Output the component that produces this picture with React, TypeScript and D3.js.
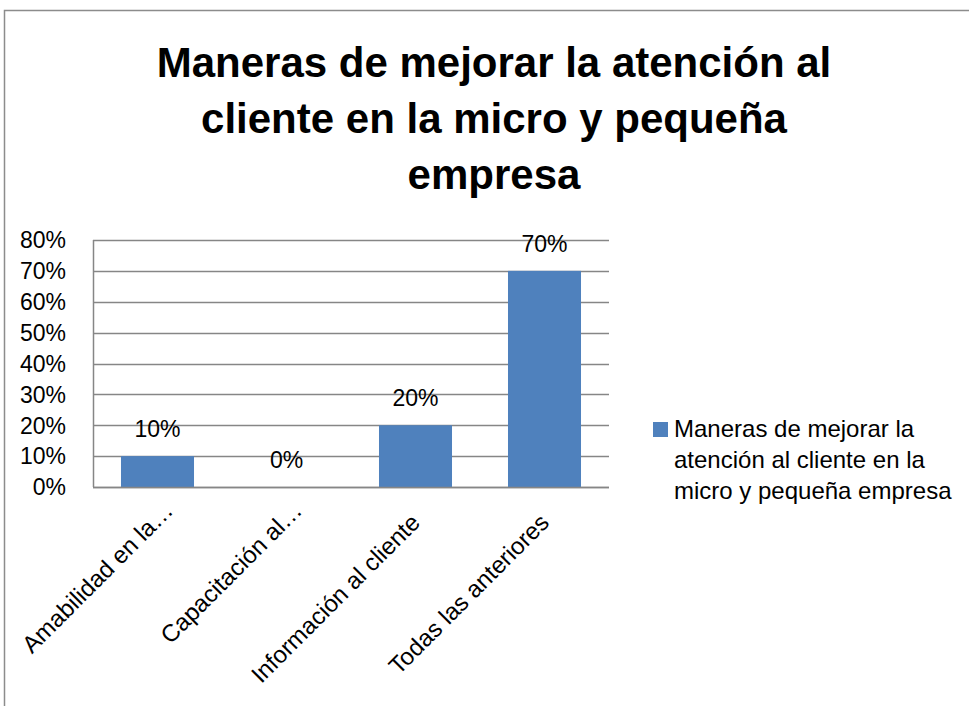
import React from "react";
import * as d3 from "d3";

const title = ["Maneras de mejorar la atención al", "cliente en la micro y pequeña", "empresa"];
const categories = ["Amabilidad en la…", "Capacitación al…", "Información al cliente", "Todas las anteriores"];
const values = [0.1, 0, 0.2, 0.7];
const yTicks = [0, 0.1, 0.2, 0.3, 0.4, 0.5, 0.6, 0.7, 0.8];
const legendLines = ["Maneras de mejorar la", "atención al cliente en la", "micro y pequeña empresa"];

const W = 969;
const H = 706;
const FONT = "'Liberation Sans', Arial, sans-serif";
const BAR = "#4F81BD";
const GRID = "#868686";

export default function App() {
  const plot = { left: 93, right: 609, top: 240, bottom: 487 };
  const x = d3
    .scaleBand<string>()
    .domain(categories)
    .range([plot.left, plot.right])
    .paddingInner(0.434)
    .paddingOuter(0.217);
  const y = d3.scaleLinear().domain([0, 0.8]).range([plot.bottom, plot.top]);
  const fmt = d3.format(".0%");

  return (
    <svg
      width={W}
      height={H}
      style={{ position: "absolute", left: 0, top: 0, background: "#fff" }}
      fontFamily={FONT}
    >
      <rect x={0} y={0} width={W} height={H} fill="#fff" />
      <rect x={4.5} y={10.5} width={W + 20} height={H + 20} fill="none" stroke="#8c8c8c" strokeWidth={1.5} />

      {title.map((t, i) => (
        <text key={i} x={494} y={77 + i * 56} textAnchor="middle" fontSize={42} fontWeight="bold" fill="#000">
          {t}
        </text>
      ))}

      {yTicks.map((t) => (
        <g key={t}>
          <line x1={plot.left} x2={plot.right} y1={Math.round(y(t)) + 0.5} y2={Math.round(y(t)) + 0.5} stroke={GRID} strokeWidth={1.5} />
          <text x={66} y={y(t)} dy="0.36em" textAnchor="end" fontSize={23} fill="#000">
            {fmt(t)}
          </text>
        </g>
      ))}
      <line x1={plot.left + 0.5} x2={plot.left + 0.5} y1={plot.top} y2={plot.bottom} stroke={GRID} strokeWidth={1.5} />

      {categories.map((c, i) => (
        <rect
          key={c}
          x={x(c)}
          y={y(values[i])}
          width={x.bandwidth()}
          height={plot.bottom - y(values[i])}
          fill={BAR}
        />
      ))}
      <line x1={plot.left} x2={plot.right} y1={plot.bottom + 0.5} y2={plot.bottom + 0.5} stroke={GRID} strokeWidth={1.5} />

      {categories.map((c, i) => (
        <text
          key={c}
          x={(x(c) as number) + x.bandwidth() / 2}
          y={y(values[i]) - 19}
          textAnchor="middle"
          fontSize={23}
          fill="#000"
        >
          {fmt(values[i])}
        </text>
      ))}

      {categories.map((c) => {
        const cx = (x(c) as number) + x.bandwidth() / 2;
        const truncated = c.endsWith("…");
        const bx = truncated ? cx + 17 : cx + 6;
        const by = truncated ? plot.bottom + 25 : plot.bottom + 37;
        return (
          <text
            key={c}
            transform={`translate(${bx},${by}) rotate(-45)`}
            textAnchor="end"
            fontSize={24}
            fill="#000"
          >
            {c}
          </text>
        );
      })}

      <rect x={653} y={422} width={15} height={15} fill={BAR} />
      {legendLines.map((l, i) => (
        <text key={i} x={674} y={437 + i * 31} fontSize={24} fill="#000">
          {l}
        </text>
      ))}
    </svg>
  );
}
